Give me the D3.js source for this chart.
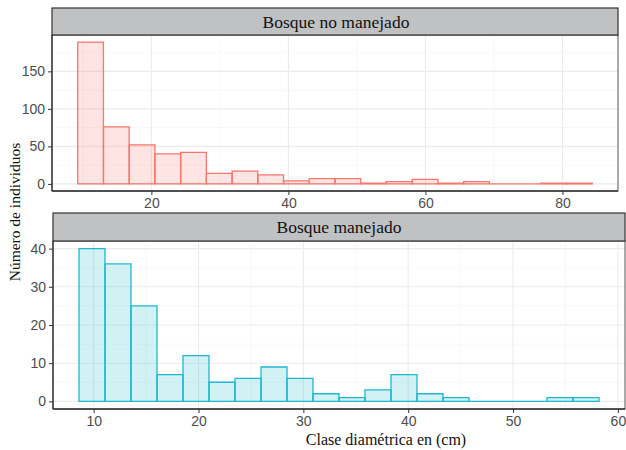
<!DOCTYPE html>
<html>
<head>
<meta charset="utf-8">
<script src="https://cdn.jsdelivr.net/npm/d3@7"></script>
<style>
  body { margin: 0; background: #fff; }
</style>
</head>
<body>
<div id="chart"></div>
<script>
// histogram counts (20 bins per panel)
var noManejadoCounts = [189, 76, 52, 40, 42, 14, 17, 12, 4, 7, 7, 1, 3, 6, 1, 3, 0, 0, 1, 1];
var noManejadoStart = 9.25, noManejadoWidth = 3.755;
var noManejadoXTicks = [20, 40, 60, 80];
var noManejadoYTicks = [0, 50, 100, 150];

var manejadoCounts = [40, 36, 25, 7, 12, 5, 6, 9, 6, 2, 1, 3, 7, 2, 1, 0, 0, 0, 1, 1];
var manejadoStart = 8.6, manejadoWidth = 2.48;
var manejadoXTicks = [10, 20, 30, 40, 50, 60];
var manejadoYTicks = [0, 10, 20, 30, 40];

var svg = d3.select("#chart")
  .append("svg")
  .attr("width", 626)
  .attr("height", 450)
  .style("font-family", "'Liberation Sans', Arial, sans-serif");

svg.append("rect").attr("width", 626).attr("height", 450).attr("fill", "#fff");

function drawPanel(p) {
  var bins = p.counts.map(function(c, i) {
    return {x0: p.start + i * p.width, x1: p.start + (i + 1) * p.width, n: c};
  });
  var xmin = bins[0].x0, xmax = bins[bins.length - 1].x1;
  var ymax = d3.max(p.counts);
  var xpad = (xmax - xmin) * 0.05, ypad = ymax * 0.05;

  var x = d3.scaleLinear().domain([xmin - xpad, xmax + xpad]).range([p.left, p.right]);
  var y = d3.scaleLinear().domain([-ypad, ymax + ypad]).range([p.bottom, p.top]);

  var g = svg.append("g");

  // minor + major grid
  var xstep = p.xTicks[1] - p.xTicks[0], ystep = p.yTicks[1] - p.yTicks[0];
  var xminor = d3.range(p.xTicks[0] - xstep / 2, x.domain()[1], xstep).filter(function(v) { return v > x.domain()[0]; });
  var yminor = d3.range(p.yTicks[0] - ystep / 2, y.domain()[1], ystep).filter(function(v) { return v > y.domain()[0]; });

  g.selectAll(".xminor").data(xminor).enter().append("line")
    .attr("x1", d => x(d)).attr("x2", d => x(d))
    .attr("y1", p.top).attr("y2", p.bottom)
    .attr("stroke", "#F4F4F4").attr("stroke-width", 0.6);
  g.selectAll(".yminor").data(yminor).enter().append("line")
    .attr("x1", p.left).attr("x2", p.right)
    .attr("y1", d => y(d)).attr("y2", d => y(d))
    .attr("stroke", "#F4F4F4").attr("stroke-width", 0.6);
  g.selectAll(".xmajor").data(p.xTicks).enter().append("line")
    .attr("x1", d => x(d)).attr("x2", d => x(d))
    .attr("y1", p.top).attr("y2", p.bottom)
    .attr("stroke", "#EBEBEB").attr("stroke-width", 1.1);
  g.selectAll(".ymajor").data(p.yTicks).enter().append("line")
    .attr("x1", p.left).attr("x2", p.right)
    .attr("y1", d => y(d)).attr("y2", d => y(d))
    .attr("stroke", "#EBEBEB").attr("stroke-width", 1.1);

  // bars as closed paths so empty bins still show their outline on the baseline
  g.selectAll(".bar").data(bins).enter().append("path")
    .attr("d", function(d) {
      var x0 = x(d.x0), x1 = x(d.x1), y0 = y(0), y1 = y(d.n);
      return "M" + x0 + "," + y0 + "L" + x0 + "," + y1 + "L" + x1 + "," + y1 + "L" + x1 + "," + y0 + "Z";
    })
    .attr("fill", p.color)
    .attr("fill-opacity", 0.2)
    .attr("stroke", p.color)
    .attr("stroke-width", 1.3);

  // panel border
  g.append("rect")
    .attr("x", p.left).attr("y", p.top)
    .attr("width", p.right - p.left).attr("height", p.bottom - p.top)
    .attr("fill", "none").attr("stroke", "#555").attr("stroke-width", 1);
  g.append("line")
    .attr("x1", p.left).attr("x2", p.left).attr("y1", p.top).attr("y2", p.bottom)
    .attr("stroke", "#333").attr("stroke-width", 1.3);
  g.append("line")
    .attr("x1", p.left).attr("x2", p.right).attr("y1", p.bottom).attr("y2", p.bottom)
    .attr("stroke", "#333").attr("stroke-width", 1.3);

  // axes
  var xa = g.append("g")
    .attr("transform", "translate(0," + p.bottom + ")")
    .call(d3.axisBottom(x).tickValues(p.xTicks).tickSize(4).tickPadding(3));
  var ya = g.append("g")
    .attr("transform", "translate(" + p.left + ",0)")
    .call(d3.axisLeft(y).tickValues(p.yTicks).tickSize(4).tickPadding(3));
  [xa, ya].forEach(function(a) {
    a.select(".domain").remove();
    a.selectAll(".tick line").attr("stroke", "#333");
    a.selectAll(".tick text")
      .attr("fill", "#4D4D4D")
      .style("font-size", "14px")
      .style("font-family", "'Liberation Sans', Arial, sans-serif");
  });

  // strip
  g.append("rect")
    .attr("x", p.left).attr("y", p.stripTop)
    .attr("width", p.right - p.left).attr("height", p.top - p.stripTop)
    .attr("fill", "#C0C1C3").attr("stroke", "#333").attr("stroke-width", 1.2);
  g.append("text")
    .attr("x", p.titleX).attr("y", (p.stripTop + p.top) / 2 + 6)
    .attr("text-anchor", "middle")
    .style("font-family", "'Liberation Serif', 'Times New Roman', serif")
    .style("font-size", "17.5px")
    .attr("fill", "#111")
    .text(p.title);
}

drawPanel({
  title: "Bosque no manejado", titleX: 336,
  counts: noManejadoCounts, start: noManejadoStart, width: noManejadoWidth,
  xTicks: noManejadoXTicks, yTicks: noManejadoYTicks,
  color: "#F8766D",
  left: 52, right: 618, stripTop: 8, top: 35, bottom: 191
});

drawPanel({
  title: "Bosque manejado", titleX: 339,
  counts: manejadoCounts, start: manejadoStart, width: manejadoWidth,
  xTicks: manejadoXTicks, yTicks: manejadoYTicks,
  color: "#1FB8CF",
  left: 53, right: 625, stripTop: 213, top: 241, bottom: 409
});

// axis titles
svg.append("text")
  .attr("transform", "translate(20,212) rotate(-90)")
  .attr("text-anchor", "middle")
  .style("font-family", "'Liberation Serif', 'Times New Roman', serif")
  .style("font-size", "15.5px")
  .attr("fill", "#111")
  .text("Número de individuos");

svg.append("text")
  .attr("x", 386).attr("y", 445)
  .attr("text-anchor", "middle")
  .style("font-family", "'Liberation Serif', 'Times New Roman', serif")
  .style("font-size", "16px")
  .attr("fill", "#111")
  .text("Clase diamétrica en (cm)");
</script>
</body>
</html>
